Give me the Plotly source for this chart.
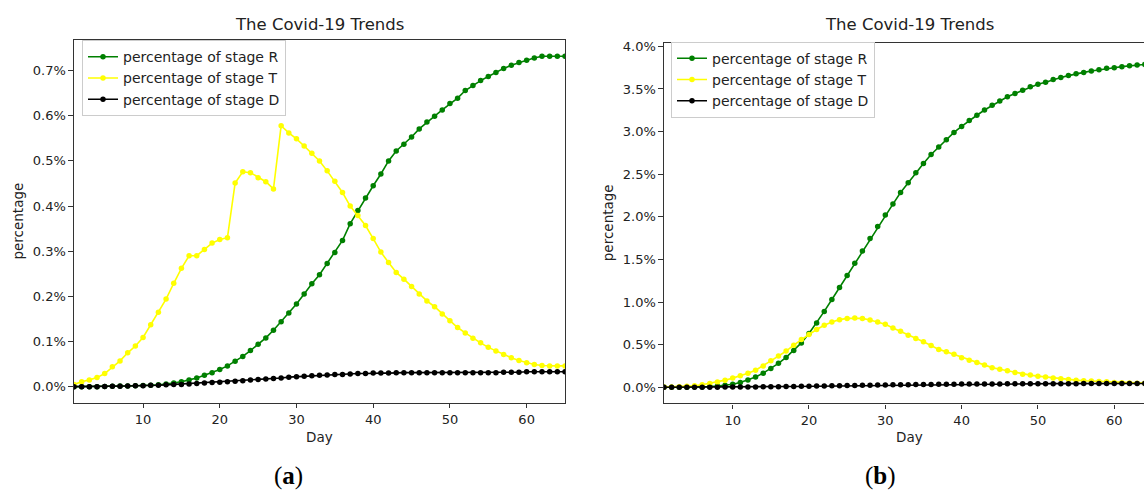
import plotly.graph_objects as go

days = list(range(1, 66))

# Panel (a) values, in percent
a_R = [0.000, 0.000, 0.000, 0.000, 0.0005, 0.001, 0.0012, 0.0015, 0.002, 0.0025,
       0.003, 0.004, 0.006, 0.008, 0.011, 0.015, 0.019, 0.025, 0.031, 0.038,
       0.046, 0.056, 0.067, 0.080, 0.094, 0.108, 0.125, 0.144, 0.163, 0.183,
       0.205, 0.228, 0.248, 0.273, 0.297, 0.324, 0.361, 0.390, 0.418, 0.445,
       0.471, 0.500, 0.522, 0.537, 0.553, 0.571, 0.586, 0.599, 0.613, 0.627,
       0.639, 0.656, 0.667, 0.678, 0.687, 0.696, 0.705, 0.712, 0.718, 0.723,
       0.728, 0.732, 0.732, 0.732, 0.732]
a_T = [0.005, 0.011, 0.015, 0.020, 0.029, 0.044, 0.057, 0.075, 0.090, 0.109,
       0.137, 0.165, 0.194, 0.229, 0.262, 0.290, 0.290, 0.304, 0.318, 0.326,
       0.330, 0.451, 0.476, 0.474, 0.463, 0.454, 0.438, 0.578, 0.562, 0.549,
       0.533, 0.517, 0.500, 0.478, 0.455, 0.430, 0.400, 0.379, 0.357, 0.328,
       0.298, 0.275, 0.253, 0.238, 0.222, 0.205, 0.190, 0.177, 0.161, 0.146,
       0.131, 0.119, 0.107, 0.097, 0.087, 0.079, 0.071, 0.064, 0.058, 0.053,
       0.049, 0.047, 0.046, 0.046, 0.046]
a_D = [0.000, 0.000, 0.000, 0.000, 0.0005, 0.001, 0.001, 0.0015, 0.002, 0.002,
       0.003, 0.003, 0.004, 0.005, 0.005, 0.006, 0.007, 0.008, 0.009, 0.010,
       0.011, 0.012, 0.013, 0.015, 0.016, 0.017, 0.018, 0.019, 0.021, 0.022,
       0.023, 0.024, 0.025, 0.026, 0.027, 0.027, 0.028, 0.029, 0.029, 0.030,
       0.030, 0.030, 0.031, 0.031, 0.031, 0.031, 0.031, 0.031, 0.031, 0.031,
       0.031, 0.031, 0.031, 0.031, 0.031, 0.031, 0.032, 0.032, 0.032, 0.033,
       0.033, 0.033, 0.033, 0.033, 0.033]

# Panel (b) values, in percent
b_R = [0.000, 0.000, 0.000, 0.001, 0.002, 0.004, 0.008, 0.013, 0.022, 0.035,
       0.055, 0.085, 0.120, 0.165, 0.220, 0.280, 0.350, 0.430, 0.520, 0.630,
       0.755, 0.890, 1.030, 1.170, 1.310, 1.455, 1.600, 1.745, 1.885, 2.021,
       2.149, 2.285, 2.401, 2.517, 2.626, 2.731, 2.820, 2.905, 2.990, 3.060,
       3.130, 3.192, 3.253, 3.308, 3.358, 3.409, 3.448, 3.486, 3.525, 3.556,
       3.579, 3.610, 3.634, 3.657, 3.680, 3.695, 3.712, 3.727, 3.742, 3.750,
       3.762, 3.773, 3.781, 3.788, 3.795]
b_T = [0.002, 0.004, 0.007, 0.011, 0.017, 0.030, 0.045, 0.060, 0.083, 0.107,
       0.134, 0.165, 0.200, 0.250, 0.310, 0.366, 0.424, 0.494, 0.560, 0.619,
       0.677, 0.727, 0.766, 0.793, 0.808, 0.812, 0.808, 0.790, 0.764, 0.738,
       0.696, 0.657, 0.610, 0.572, 0.533, 0.490, 0.444, 0.417, 0.386, 0.347,
       0.316, 0.289, 0.262, 0.230, 0.211, 0.192, 0.172, 0.153, 0.142, 0.130,
       0.119, 0.107, 0.099, 0.091, 0.083, 0.076, 0.072, 0.068, 0.064, 0.056,
       0.052, 0.049, 0.048, 0.046, 0.044]
b_D = [0.000, 0.000, 0.000, 0.000, 0.000, 0.001, 0.001, 0.001, 0.002, 0.002,
       0.003, 0.003, 0.004, 0.005, 0.006, 0.007, 0.008, 0.009, 0.010, 0.012,
       0.013, 0.015, 0.016, 0.018, 0.019, 0.021, 0.022, 0.024, 0.025, 0.027,
       0.028, 0.029, 0.030, 0.031, 0.032, 0.033, 0.034, 0.035, 0.036, 0.037,
       0.037, 0.038, 0.038, 0.039, 0.039, 0.040, 0.040, 0.040, 0.041, 0.041,
       0.041, 0.042, 0.042, 0.042, 0.042, 0.043, 0.043, 0.043, 0.043, 0.043,
       0.044, 0.044, 0.044, 0.044, 0.044]

x_ticks = [10, 20, 30, 40, 50, 60]
a_yticks = [0.0, 0.1, 0.2, 0.3, 0.4, 0.5, 0.6, 0.7]
b_yticks = [0.0, 0.5, 1.0, 1.5, 2.0, 2.5, 3.0, 3.5, 4.0]

names = ["percentage of stage R", "percentage of stage T", "percentage of stage D"]
colors = ["#008000", "#FFFF00", "#000000"]

FONT = "DejaVu Sans"
TXT = "#222222"

fig = go.Figure()
for i, (ser, nm, col) in enumerate(zip([a_R, a_T, a_D], names, colors)):
    fig.add_trace(go.Scatter(x=days, y=ser, name=nm, mode="lines+markers",
                             line=dict(color=col, width=1.6),
                             marker=dict(color=col, size=5.5),
                             legendgroup="a" + str(i),
                             xaxis="x", yaxis="y", legend="legend"))
for i, (ser, nm, col) in enumerate(zip([b_R, b_T, b_D], names, colors)):
    fig.add_trace(go.Scatter(x=days, y=ser, name=nm, mode="lines+markers",
                             line=dict(color=col, width=1.6),
                             marker=dict(color=col, size=5.5),
                             legendgroup="b" + str(i),
                             xaxis="x2", yaxis="y2", legend="legend2"))

W, H = 1144, 490
axis_common = dict(showline=True, linecolor="#333333", linewidth=1.2,
                   ticks="outside", ticklen=4.5, tickcolor="#333333",
                   showgrid=False, zeroline=False,
                   tickfont=dict(family=FONT, size=13, color=TXT))

L_left, L_right = 74, 565
R_left, R_right = 664, 1144
yA_top, yA_bot = 36.7, 402
yB_top, yB_bot = 39.3, 402.7

legend_common = dict(xanchor="left", yanchor="top",
                     bgcolor="rgba(255,255,255,0.85)", bordercolor="#cccccc", borderwidth=1,
                     font=dict(family=FONT, size=14, color=TXT), itemwidth=30,
                     tracegroupgap=0)

fig.update_layout(
    width=W, height=H, margin=dict(l=0, r=0, t=0, b=0),
    paper_bgcolor="white", plot_bgcolor="white",
    font=dict(family=FONT, color=TXT),
    xaxis=dict(domain=[L_left / W, L_right / W], range=[1, 65],
               tickvals=x_ticks, mirror=True, anchor="y", **axis_common),
    yaxis=dict(domain=[1 - yA_bot / H, 1 - yA_top / H], range=[-0.0356, 0.767],
               tickvals=a_yticks, ticktext=[f"{v:.1f}%" for v in a_yticks],
               mirror=True, anchor="x", **axis_common),
    xaxis2=dict(domain=[R_left / W, R_right / W], range=[1, 63.9],
                tickvals=x_ticks, mirror=True, anchor="y2", **axis_common),
    yaxis2=dict(domain=[1 - yB_bot / H, 1 - yB_top / H], range=[-0.19, 4.04],
                tickvals=b_yticks, ticktext=[f"{v:.1f}%" for v in b_yticks],
                mirror=False, anchor="x2", **axis_common),
    legend=dict(x=82 / W, y=1 - 36.5 / H, **legend_common),
    legend2=dict(x=671 / W, y=1 - 38 / H, **legend_common),
    showlegend=True,
)

ann = []
for cx in [(L_left + L_right) / 2, (R_left + R_left + 491) / 2]:
    ann.append(dict(text="The Covid-19 Trends", x=cx / W, y=1 - 21 / H, xref="paper", yref="paper",
                    showarrow=False, xanchor="center", yanchor="middle",
                    font=dict(family=FONT, size=16.5, color=TXT)))
for cx in [(L_left + L_right) / 2, (R_left + R_left + 491) / 2]:
    ann.append(dict(text="Day", x=cx / W, y=1 - 437 / H, xref="paper", yref="paper",
                    showarrow=False, xanchor="center", yanchor="middle",
                    font=dict(family=FONT, size=13.5, color=TXT)))
for cx, cy in [(18, (yA_top + yA_bot) / 2), (608, (yB_top + yB_bot) / 2)]:
    ann.append(dict(text="percentage", x=cx / W, y=1 - cy / H, xref="paper", yref="paper",
                    showarrow=False, xanchor="center", yanchor="middle", textangle=-90,
                    font=dict(family=FONT, size=13.5, color=TXT)))
for cx, lab in [(288, "a"), (880, "b")]:
    ann.append(dict(text="(<b>" + lab + "</b>)", x=cx / W, y=1 - 476 / H, xref="paper", yref="paper",
                    showarrow=False, xanchor="center", yanchor="middle",
                    font=dict(family="Liberation Serif", size=25, color="#000000")))
fig.update_layout(annotations=ann)

fig.write_html("out.html")
